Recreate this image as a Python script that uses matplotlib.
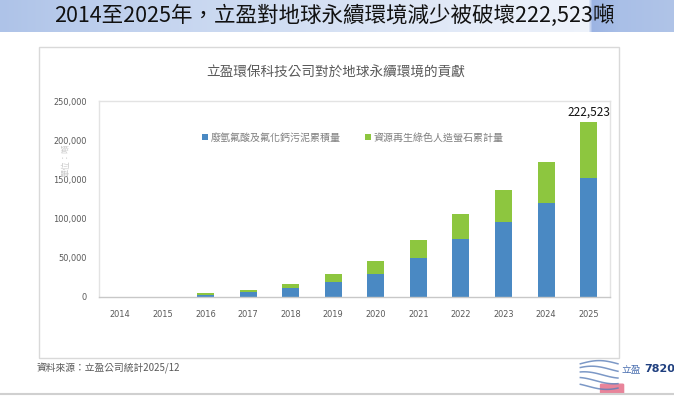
import numpy as np
import matplotlib
matplotlib.use("Agg")
import matplotlib.pyplot as plt
from matplotlib.patches import Rectangle, FancyBboxPatch

plt.rcParams['font.family'] = ['Noto Sans CJK TC', 'DejaVu Sans']

# ---- data ----
years = ['2014', '2015', '2016', '2017', '2018', '2019', '2020',
         '2021', '2022', '2023', '2024', '2025']
sludge = [0, 0, 2000, 5500, 11000, 18500, 29000, 49500, 73500, 95000, 120000, 152000]
fluorite = [0, 0, 2000, 2500, 5300, 9800, 16000, 22700, 32500, 41000, 51400, 70523]
series_names = ['廢氫氟酸及氟化鈣污泥累積量', '資源再生綠色人造螢石累計量']
yticks = [0, 50000, 100000, 150000, 200000, 250000]
total_label = '222,523'
main_title = '2014至2025年，立盈對地球永續環境減少被破壞222,523噸'
chart_title = '立盈環保科技公司對於地球永續環境的貢獻'
y_label = '單位：噸'
source_text = '資料來源：立盈公司統計2025/12'

W, H = 674, 398
fig = plt.figure(figsize=(W / 100, H / 100), dpi=100)
fig.patch.set_facecolor('white')

def fx(px):
    return px / W

def fy(py):
    return 1 - py / H

# ---- banner ----
bax = fig.add_axes([0, fy(32), 1, 32 / H])
xs = np.arange(W)
stops_x = [0, 150, 560, 588, 592, 620, 674]
cols = np.array([[0xae, 0xc3, 0xe8], [0xc4, 0xd4, 0xef], [0xec, 0xf1, 0xfa],
                 [0xee, 0xf3, 0xfb], [0x9c, 0xb4, 0xe3], [0xa9, 0xbf, 0xe7],
                 [0xb0, 0xc4, 0xe8]]) / 255.0
grad = np.stack([np.interp(xs, stops_x, cols[:, c]) for c in range(3)], axis=-1)
bax.imshow(grad[None, :, :], aspect='auto', extent=[0, W, 0, 1])
bax.set_axis_off()
fig.text(fx(334), fy(16), main_title, ha='center', va='center',
         fontsize=15.5, fontweight='medium', color='#111111')

# ---- chart box ----
fig.patches.append(Rectangle((fx(39), fy(358)), fx(619) - fx(39), fy(47) - fy(358),
                             transform=fig.transFigure, fill=False,
                             edgecolor='#d9d9d9', linewidth=1.0))
fig.text(fx(336), fy(72), chart_title, ha='center', va='center',
         fontsize=9.8, fontweight='light', color='#595959')

# ---- plot ----
ax = fig.add_axes([fx(99), fy(296.5), fx(610) - fx(99), fy(101) - fy(296.5)])
x = np.arange(len(years))
ax.bar(x, sludge, width=0.4, color='#4a89c3', label=series_names[0], zorder=2)
ax.bar(x, fluorite, width=0.4, bottom=sludge, color='#8dc63f',
       label=series_names[1], zorder=2)
ax.set_xlim(-0.5, len(years) - 0.5)
ax.set_ylim(0, 250000)
ax.set_yticks(yticks)
ax.set_yticklabels([f'{v:,}' for v in yticks])
ax.set_xticks(x)
ax.set_xticklabels(years)
for lab in ax.get_xticklabels() + ax.get_yticklabels():
    lab.set_family(['DejaVu Sans'])
    lab.set_fontstretch('condensed')
ax.tick_params(axis='both', length=0, labelsize=6.6, colors='#595959')
ax.tick_params(axis='y', pad=9)
ax.tick_params(axis='x', pad=10)
for s in ['top', 'left', 'right']:
    ax.spines[s].set_color('#e3e3e3')
    ax.spines[s].set_linewidth(1.0)
ax.spines['bottom'].set_color('#c8c8c8')
ax.spines['bottom'].set_linewidth(1.0)

totals = np.array(sludge) + np.array(fluorite)
ax.annotate(total_label, (x[-1], totals[-1]), xytext=(0, 3),
            textcoords='offset points', ha='center', va='bottom',
            fontsize=8.5, fontweight='medium', color='#111111')

leg = ax.legend(loc='upper left', bbox_to_anchor=(0.183, 0.885), ncol=2,
                frameon=False, fontsize=7.2, handlelength=0.6, handleheight=0.6,
                handletextpad=0.3, columnspacing=2.4, labelcolor='#7f7f7f')

fig.text(fx(66), fy(160), y_label, rotation=90, ha='center', va='center',
         fontsize=6, color='#c8c8c8')

# ---- footer ----
fig.text(fx(37), fy(368), source_text, ha='left', va='center',
         fontsize=7, color='#595959')
fig.add_artist(plt.Line2D([0, 1], [fy(394), fy(394)], transform=fig.transFigure,
                          color='#d0d0d0', linewidth=1.5))

# logo
lax = fig.add_axes([fx(578), fy(395), fx(625) - fx(578), (fy(355) - fy(395))])
lax.set_xlim(0, 1)
lax.set_ylim(0, 1)
lax.set_axis_off()
t = np.linspace(0, 1, 50)
for i, off in enumerate([0.78, 0.64, 0.50, 0.36, 0.22]):
    lax.plot(0.05 + 0.8 * t, off + 0.08 * np.sin(np.pi * (t + 0.2 * i)),
             color='#5b7fb8', linewidth=1.1, alpha=0.8)
lax.add_patch(FancyBboxPatch((0.5, 0.05), 0.45, 0.2,
                             boxstyle='round,pad=0.02', color='#e8849a'))
fig.text(fx(621), fy(369), '立盈', ha='left', va='center', fontsize=7,
         color='#4a6fb0')
fig.text(fx(644), fy(369), '7820', ha='left', va='center', fontsize=8,
         fontweight='bold', color='#1f3f7f', family=['DejaVu Sans'])

fig.savefig('out.png', dpi=100)
